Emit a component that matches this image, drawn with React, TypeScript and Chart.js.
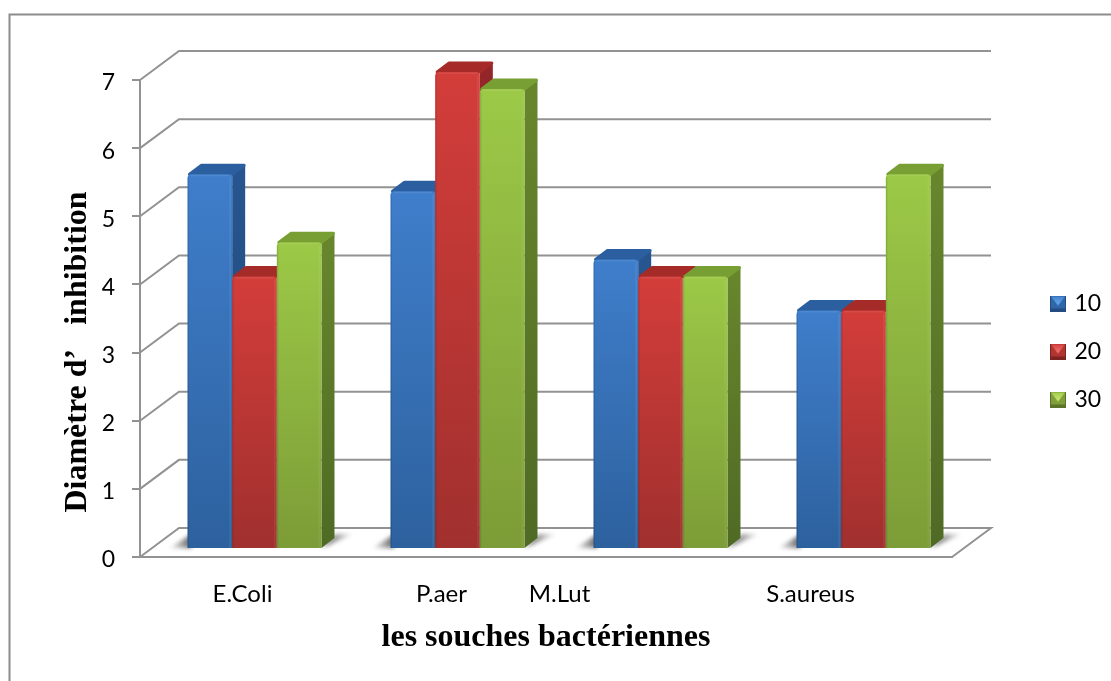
import React, { useEffect, useRef } from "react";
import { Chart, registerables } from "chart.js";

Chart.register(...registerables);

const categories = ["E.Coli", "P.aer", "M.Lut", "S.aureus"];
const seriesNames = ["10", "20", "30"];
const series10 = [5.5, 5.25, 4.25, 3.5];
const series20 = [4, 7, 4, 3.5];
const series30 = [4.5, 6.75, 4, 5.5];
const yTicks = [0, 1, 2, 3, 4, 5, 6, 7];
const categoryLabelNudge = [1, -3, -88, -40];
const yTitle = "Diamètre d’   inhibition";
const xTitle = "les souches bactériennes";

const GRAY = "#929292";
const WALL = { dx: 39, dy: 29 };
const BAR_SHIFT = { dx: 13, dy: 8 };
const BAR_DEPTH = { dx: 13, dy: 10 };

const palette = [
  { top: "#3f7ecb", bottom: "#2d619e", cap: "#2b5f9f", sideTop: "#27558f", sideBottom: "#1f4675", light: "#6aaef0", dark: "#234d82", mid: "#2f66a8" },
  { top: "#d33d3a", bottom: "#a0302e", cap: "#a52b29", sideTop: "#94262a", sideBottom: "#7a1f1e", light: "#f47a76", dark: "#7d2321", mid: "#b23431" },
  { top: "#9cc947", bottom: "#7c9c37", cap: "#789f33", sideTop: "#67862c", sideBottom: "#4f6a24", light: "#d2ea7a", dark: "#5c7429", mid: "#7f9f39" },
];

function legendSwatch(c: (typeof palette)[number]) {
  const cv = document.createElement("canvas");
  cv.width = 16;
  cv.height = 16;
  const g = cv.getContext("2d")!;
  g.fillStyle = c.mid;
  g.fillRect(0, 0, 16, 16);
  g.fillStyle = c.dark;
  g.fillRect(0, 13, 16, 3);
  g.fillRect(0, 0, 1, 16);
  g.fillRect(15, 0, 1, 16);
  const gr = g.createLinearGradient(0, 0, 0, 10);
  gr.addColorStop(0, c.top);
  gr.addColorStop(1, c.light);
  g.fillStyle = gr;
  g.beginPath();
  g.moveTo(1, 1);
  g.lineTo(15, 1);
  g.lineTo(8, 10);
  g.closePath();
  g.fill();
  return cv;
}

function poly(ctx: CanvasRenderingContext2D, pts: number[][], fill: any, round = false) {
  ctx.beginPath();
  pts.forEach((p, i) => (i ? ctx.lineTo(p[0], p[1]) : ctx.moveTo(p[0], p[1])));
  ctx.closePath();
  ctx.fillStyle = fill;
  ctx.fill();
  if (round) {
    ctx.strokeStyle = fill;
    ctx.lineWidth = 3;
    ctx.lineJoin = "round";
    ctx.stroke();
  }
}

const scene3d = {
  id: "scene3d",
  afterLayout(chart: any) {
    const l = chart.legend;
    if (l) {
      const w = l.width;
      const h = l.height;
      l.left = 1028;
      l.right = 1028 + w;
      l.top = 267;
      l.bottom = 267 + h;
    }
  },
  beforeDraw(chart: any) {
    const { ctx, chartArea: a, scales } = chart;
    const y = scales.y;
    ctx.save();
    ctx.strokeStyle = "#8c8c8c";
    ctx.lineWidth = 2;
    ctx.beginPath();
    ctx.moveTo(9.5, 681);
    ctx.lineTo(9.5, 14.5);
    ctx.lineTo(1111, 14.5);
    ctx.stroke();
    ctx.strokeStyle = GRAY;
    ctx.lineWidth = 2;
    yTicks.forEach((v) => {
      const p = y.getPixelForValue(v);
      ctx.beginPath();
      ctx.moveTo(a.left, p);
      ctx.lineTo(a.left + WALL.dx, p - WALL.dy);
      ctx.lineTo(a.right + WALL.dx, p - WALL.dy);
      if (v === 0) ctx.lineTo(a.right, p);
      ctx.stroke();
    });
    ctx.restore();
  },
  // Series are painted first-to-last so that later bars sit in front of the
  // side faces of earlier ones; the native pass is then cancelled.
  beforeDatasetsDraw(chart: any) {
    const { ctx, scales } = chart;
    ctx.save();
    ctx.translate(BAR_SHIFT.dx, -BAR_SHIFT.dy);
    const first = chart.getDatasetMeta(0).data;
    const last = chart.getDatasetMeta(2).data;
    first.forEach((b: any, i: number) => {
      const x0 = b.x - b.width / 2;
      const x1 = last[i].x + last[i].width / 2;
      const base = b.base;
      ctx.save();
      ctx.filter = "blur(2px)";
      const gl = ctx.createLinearGradient(x0 - 18, 0, x0 + 2, 0);
      gl.addColorStop(0, "rgba(120,120,120,0.1)");
      gl.addColorStop(1, "rgba(100,100,100,0.95)");
      poly(ctx, [[x0 - 18, base], [x0 + 4, base], [x0 + 4, base - 14]], gl);
      const gr = ctx.createLinearGradient(x1 + 6, 0, x1 + 32, 0);
      gr.addColorStop(0, "rgba(100,100,100,0.95)");
      gr.addColorStop(1, "rgba(120,120,120,0.05)");
      poly(ctx, [[x1, base], [x1 + 14, base - 14], [x1 + 32, base - 14]], gr);
      ctx.restore();
    });
    seriesNames.forEach((_, idx) => {
      const meta = chart.getDatasetMeta(idx);
      const c = palette[idx];
      meta.data.forEach((b: any) => {
        const x0 = b.x - b.width / 2;
        const x1 = b.x + b.width / 2;
        const { dx, dy } = BAR_DEPTH;
        const side = ctx.createLinearGradient(0, b.y, 0, b.base);
        side.addColorStop(0, c.sideTop);
        side.addColorStop(1, c.sideBottom);
        poly(ctx, [[x1, b.y], [x1 + dx, b.y - dy + 1], [x1 + dx, b.base - dy], [x1, b.base]], side);
        poly(ctx, [[x0 + 2, b.y], [x0 + dx + 1, b.y - dy + 1], [x1 + dx - 1, b.y - dy + 1], [x1, b.y]], c.cap, true);
      });
      meta.controller.draw();
      meta.data.forEach((b: any) => {
        const x0 = b.x - b.width / 2;
        const x1 = b.x + b.width / 2;
        const h = b.base - b.y;
        ctx.fillStyle = "rgba(255,255,255,0.06)";
        ctx.fillRect(x1 - 3, b.y + 3, 2, h - 3);
        ctx.fillStyle = "rgba(0,0,0,0.10)";
        ctx.fillRect(x0, b.y + 3, 1.5, h - 3);
        ctx.fillStyle = "rgba(255,255,255,0.08)";
        ctx.fillRect(x0 + 3, b.y + 0.5, b.width - 6, 1.5);
      });
    });
    ctx.restore();

    const x = scales.x;
    const y = scales.y;
    ctx.save();
    ctx.font = "24px Lato";
    ctx.fillStyle = "#000";
    ctx.textAlign = "center";
    ctx.textBaseline = "middle";
    categories.forEach((_, i) => {
      ctx.fillText(x.getLabelForValue(i), x.getPixelForTick(i) + categoryLabelNudge[i], 594);
    });
    ctx.font = "23px Lato";
    ctx.textAlign = "right";
    y.ticks.forEach((t: any, i: number) => {
      ctx.fillText(String(t.value), 115, y.getPixelForTick(i) + 3);
    });
    ctx.textAlign = "center";
    ctx.translate(78, 352);
    ctx.rotate(-Math.PI / 2);
    ctx.font = "bold 32px 'Liberation Serif'";
    ctx.fillText(yTitle, 0, 0);
    ctx.restore();
    return false;
  },
};

export default function App() {
  const ref = useRef<HTMLCanvasElement>(null);
  useEffect(() => {
    const swatches = palette.map(legendSwatch);
    const gradient = (i: number) => (cx: any) => {
      const { chart, parsed } = cx;
      if (!parsed || !chart.scales.y) return palette[i].top;
      const yS = chart.scales.y;
      const g = chart.ctx.createLinearGradient(0, yS.getPixelForValue(parsed.y), 0, yS.getPixelForValue(0));
      g.addColorStop(0, palette[i].top);
      g.addColorStop(1, palette[i].bottom);
      return g;
    };
    const values = [series10, series20, series30];
    const chart = new Chart(ref.current!, {
      type: "bar",
      data: {
        labels: categories,
        datasets: values.map((data, i) => ({
          label: seriesNames[i],
          data,
          clip: false,
          backgroundColor: gradient(i),
          borderWidth: 0,
          borderRadius: { topLeft: 4, topRight: 3, bottomLeft: 0, bottomRight: 0 },
          categoryPercentage: 0.66,
          barPercentage: 1,
        })),
      } as any,
      options: {
        responsive: false,
        animation: false,
        layout: { padding: { top: 80, right: 159, left: 0, bottom: 0 } },
        plugins: {
          tooltip: { enabled: false },
          legend: {
            position: "chartArea" as any,
            align: "start",
            labels: {
              usePointStyle: true,
              boxWidth: 10,
              boxHeight: 10,
              padding: 25,
              color: "#000",
              font: { family: "Lato", size: 23 },
              generateLabels: () =>
                seriesNames.map((text, i) => ({
                  text,
                  datasetIndex: i,
                  pointStyle: swatches[i],
                  fillStyle: palette[i].mid,
                  strokeStyle: "transparent",
                  lineWidth: 0,
                  hidden: false,
                })) as any,
            },
          },
        },
        scales: {
          x: {
            afterFit: (s: any) => {
              s.height = 124;
            },
            grid: { display: false, drawTicks: false },
            border: { display: true, color: GRAY, width: 2 },
            ticks: { display: false },
            title: {
              display: true,
              text: xTitle,
              color: "#000",
              font: { family: "'Liberation Serif'", size: 32, weight: "bold" },
              padding: { top: 0, bottom: 24 },
            },
          },
          y: {
            min: 0,
            max: 7,
            afterFit: (s: any) => {
              s.width = 140;
            },
            grid: { drawOnChartArea: false, color: GRAY, lineWidth: 2, tickLength: 8 },
            border: { display: true, color: GRAY, width: 2 },
            ticks: { display: false, stepSize: 1 },
          },
        },
      },
      plugins: [scene3d],
    } as any);
    return () => chart.destroy();
  }, []);
  return (
    <div style={{ position: "absolute", left: 0, top: 0, width: 1111, height: 681, background: "#fff" }}>
      <canvas ref={ref} width={1111} height={681} style={{ display: "block" }} />
    </div>
  );
}
